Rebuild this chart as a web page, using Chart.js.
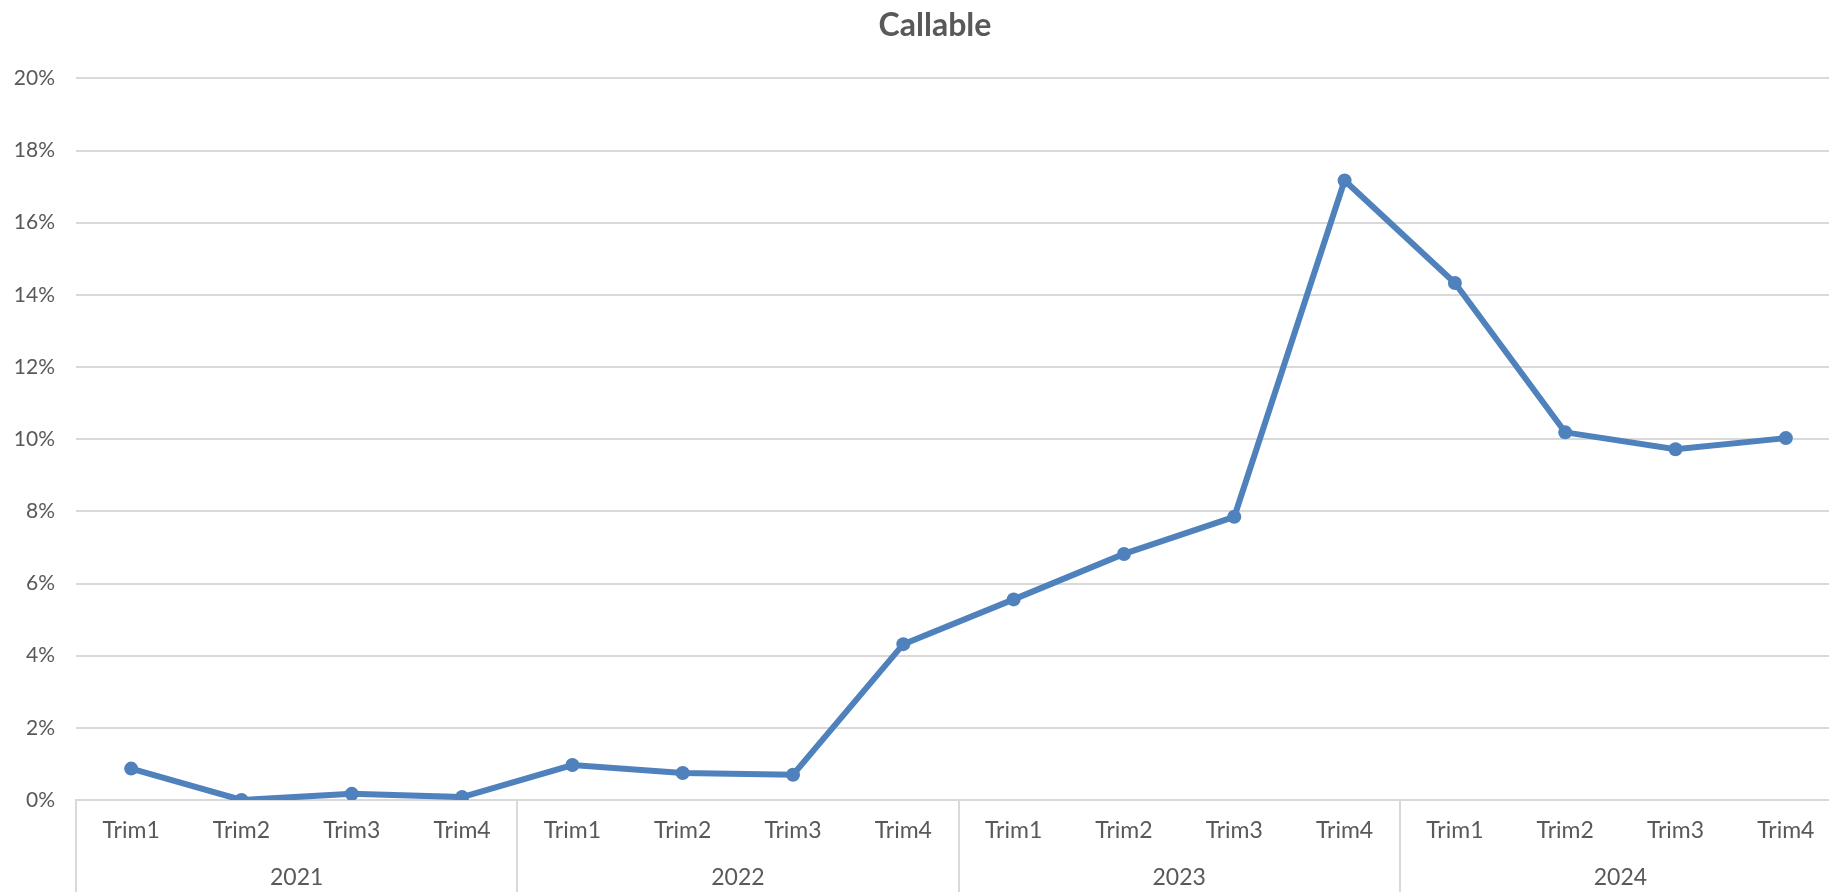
<!DOCTYPE html>
<html>
<head>
<meta charset="utf-8">
<script src="https://cdn.jsdelivr.net/npm/chart.js@4.4.1/dist/chart.umd.min.js"></script>
<style>
    body { margin: 0; overflow: hidden; background: #fff; }
    .grafico-container { width: 1864px; height: 892px; }
</style>
</head>
<body>
<div class='grafico-container'>
    <canvas id="linhaCallable"></canvas>
</div>

<script>
    // dados
    var trimestres = ["Trim1", "Trim2", "Trim3", "Trim4",
                      "Trim1", "Trim2", "Trim3", "Trim4",
                      "Trim1", "Trim2", "Trim3", "Trim4",
                      "Trim1", "Trim2", "Trim3", "Trim4"];
    var anos = ["2021", "2022", "2023", "2024"];
    var callable = [0.87, 0.00, 0.17, 0.08,
                    0.97, 0.75, 0.70, 4.32,
                    5.56, 6.82, 7.85, 17.17,
                    14.33, 10.19, 9.72, 10.03];
    var yTicks = [0, 2, 4, 6, 8, 10, 12, 14, 16, 18, 20];

    var corTexto = '#595959';
    var corGrade = '#d9d9d9';
    var azul = '#4f81bd';
    var fonte = 'Lato, "Open Sans", sans-serif';

    // o título do original fica um pouco à direita do centro
    var moverTitulo = {
        id: 'moverTitulo',
        afterLayout: function(chart) {
            if (chart.titleBlock) chart.titleBlock.left = 29;
        }
    };

    var ctx = document.getElementById('linhaCallable').getContext('2d');
    window.chartCallable = new Chart(ctx, {
        type: 'line',
        data: {
            labels: trimestres,
            datasets: [{
                label: 'Callable',
                data: callable,
                borderColor: azul,
                backgroundColor: azul,
                borderWidth: 6,
                pointRadius: 7,
                pointBorderWidth: 0,
                tension: 0,
                xAxisID: 'x',
                yAxisID: 'y'
            }]
        },
        plugins: [moverTitulo],
        options: {
            responsive: true,
            maintainAspectRatio: false,
            animation: false,
            layout: { padding: { left: 0, right: 23, top: 0, bottom: 0 } },
            plugins: {
                legend: { display: false },
                tooltip: { enabled: false },
                title: {
                    display: true,
                    text: 'Callable',
                    color: corTexto,
                    font: { family: fonte, size: 32, weight: 'bold' },
                    padding: { top: 6, bottom: 34 }
                }
            },
            scales: {
                y: {
                    min: 0,
                    max: 20,
                    afterFit: function(scale) { scale.width = 76; },
                    afterBuildTicks: function(scale) {
                        scale.ticks = yTicks.map(function(v) { return { value: v }; });
                    },
                    ticks: {
                        padding: 21,
                        color: corTexto,
                        font: { family: fonte, size: 21 },
                        callback: function(v) { return v + '%'; }
                    },
                    grid: { color: corGrade, lineWidth: 2, drawTicks: false },
                    border: { display: false }
                },
                x: {
                    type: 'category',
                    position: 'bottom',
                    weight: 0,
                    offset: true,
                    afterFit: function(scale) { scale.height = 48; },
                    ticks: {
                        padding: -83,
                        color: corTexto,
                        font: { family: fonte, size: 23 },
                        maxRotation: 0,
                        autoSkip: false
                    },
                    grid: {
                        offset: true,
                        drawOnChartArea: false,
                        drawTicks: true,
                        tickLength: 100,
                        lineWidth: 2,
                        color: function(c) { return c.index % 4 === 0 ? corGrade : 'rgba(0,0,0,0)'; }
                    },
                    border: { display: true, color: corGrade, width: 2 }
                },
                x2: {
                    type: 'category',
                    labels: anos,
                    position: 'bottom',
                    weight: 1,
                    offset: true,
                    afterFit: function(scale) { scale.height = 44; },
                    ticks: {
                        padding: 16,
                        color: corTexto,
                        font: { family: fonte, size: 23 },
                        maxRotation: 0,
                        autoSkip: false
                    },
                    grid: { display: false, drawTicks: false },
                    border: { display: false }
                }
            }
        }
    });
</script>
</body>
</html>
